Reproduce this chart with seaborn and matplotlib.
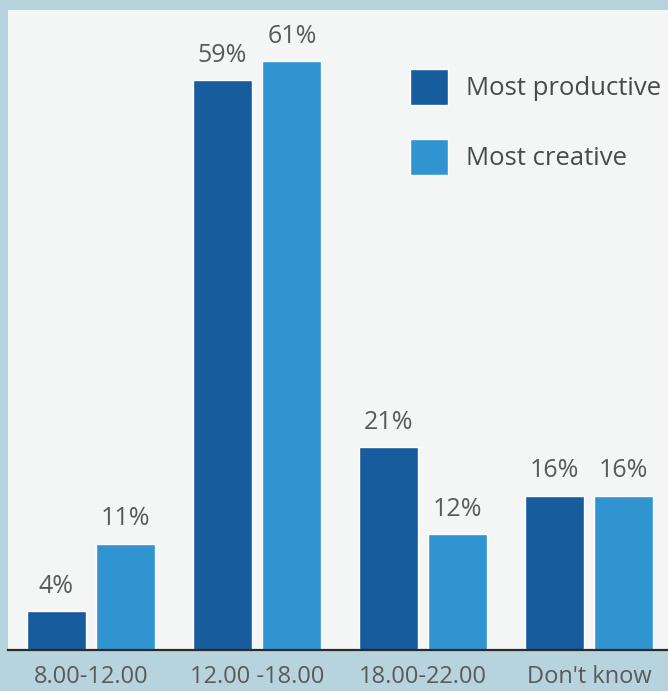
import pandas as pd
import seaborn as sns
import matplotlib.pyplot as plt

periods = ['8.00-12.00', '12.00 -18.00', '18.00-22.00', "Don't know"]
productive = [4, 59, 21, 16]
creative = [11, 61, 12, 16]
series = ['Most productive', 'Most creative']

df = pd.DataFrame({
    'period': periods * 2,
    'pct': productive + creative,
    'kind': [series[0]] * 4 + [series[1]] * 4,
})

sns.set_theme(style='white')
plt.rcParams['font.family'] = ['Open Sans', 'DejaVu Sans']

fig = plt.figure(figsize=(6.68, 6.91), dpi=100, facecolor='#b7d3dd')
ax = fig.add_axes([8 / 668, 41 / 691, 660 / 668, 640 / 691])
ax.set_facecolor('#f4f6f6')

pal = {series[0]: '#175c9c', series[1]: '#3094d0'}
sns.barplot(data=df, x='period', y='pct', hue='kind', palette=pal,
            width=0.84, gap=0.155, saturation=1, ax=ax)

for c in ax.containers:
    ax.bar_label(c, labels=[f'{v:.0f}%' for v in c.datavalues],
                 padding=9, fontsize=18, color='#5a5a5a')

ax.set_xlim(-0.5, 3.476)
ax.set_ylim(0, 66.3)
ax.set_xlabel('')
ax.set_ylabel('')
ax.set_yticks([])
ax.tick_params(axis='x', length=0, labelsize=17, labelcolor='#5a5a5a', pad=11)
for s in ['top', 'right', 'left']:
    ax.spines[s].set_visible(False)
ax.spines['bottom'].set_color('#2a2a2a')
ax.spines['bottom'].set_linewidth(1.6)

leg = ax.legend(loc='upper left', bbox_to_anchor=(0.609, 0.908), frameon=False,
                fontsize=18.5, handlelength=1.48, handleheight=1.8,
                labelspacing=1.3, handletextpad=0.7, borderpad=0, borderaxespad=0)
for t in leg.get_texts():
    t.set_color('#4a4a4a')

fig.savefig('out.png', dpi=100, facecolor=fig.get_facecolor())
